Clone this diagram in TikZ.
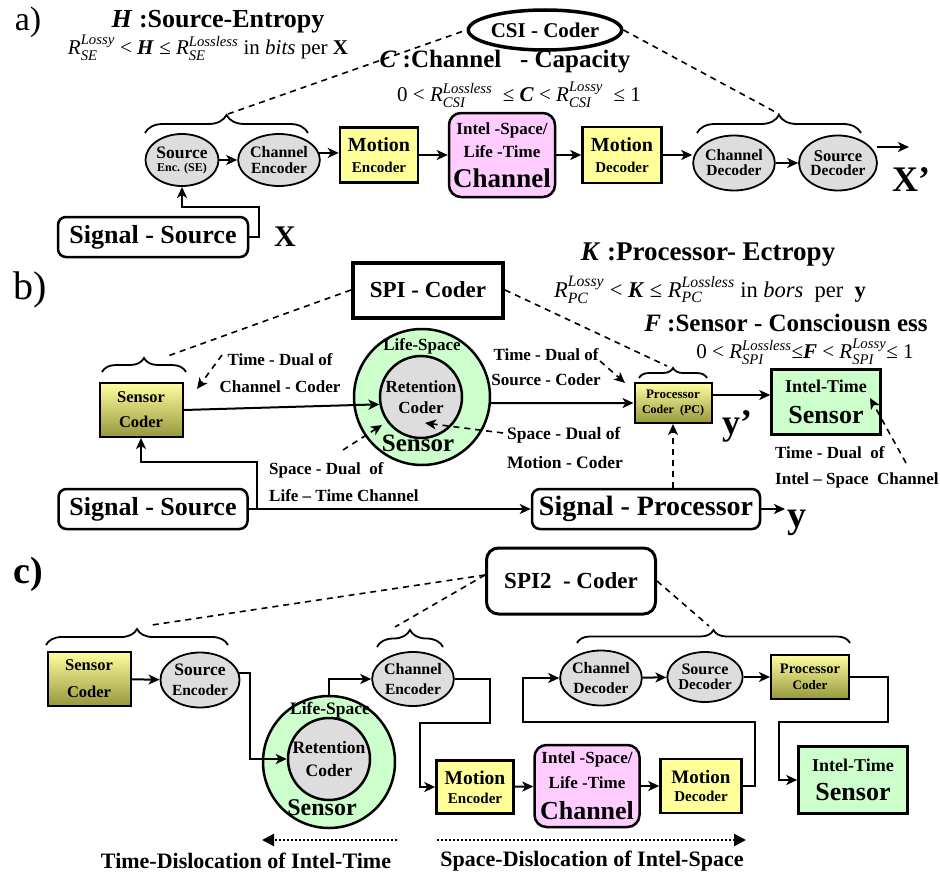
\documentclass[tikz,border=0pt]{standalone}
\usepackage{amsmath}
\usepackage{fontspec}
\setmainfont{Liberation Serif}
\usetikzlibrary{arrows.meta,decorations.pathreplacing,shapes.geometric}
\definecolor{boxyellow}{HTML}{FFFF99}
\definecolor{boxpink}{HTML}{FFCCFF}
\definecolor{boxgreen}{HTML}{CCFFCC}
\definecolor{ellgray}{HTML}{DDDDDD}
\definecolor{olivetop}{HTML}{FFFFA0}
\definecolor{olivebot}{HTML}{96963C}
\newcommand{\fs}[1]{\fontsize{#1}{#1}\selectfont}
\newcommand{\Rq}[2]{$\textit{R}^{\textit{#1}}_{\textit{#2}}$}
\newcommand{\bi}[1]{\textbf{\textit{#1}}}
\begin{document}
\begin{tikzpicture}[x=1pt,y=-1pt,
  every node/.style={font=\bfseries, inner sep=0pt, align=center},
  arr/.style={line width=2pt, -{Stealth[length=11pt,width=10pt,inset=3pt]}},
  dsh/.style={line width=1.6pt, dash pattern=on 6pt off 5pt},
  darr/.style={dsh, -{Stealth[length=11pt,width=10pt,inset=3pt]}},
  dotarr/.style={line width=2.5pt, dash pattern=on 2pt off 2pt, -{Triangle[length=12pt,width=12pt]}},
  ell/.style={ellipse, draw, line width=1.8pt, fill=ellgray},
  ybox/.style={rectangle, draw, line width=2.5pt, fill=boxyellow},
  pbox/.style={rectangle, rounded corners=12pt, draw, line width=2.5pt, fill=boxpink},
  gbox/.style={rectangle, draw, line width=2.5pt, fill=boxgreen},
  obox/.style={rectangle, draw, line width=2pt, top color=olivetop, bottom color=olivebot},
  wbox/.style={rectangle, rounded corners=8pt, draw, line width=2.5pt, fill=white},
  brc/.style={decorate, decoration={brace, amplitude=#1}, line width=1.8pt},
  brc/.default=18pt]
\useasboundingbox (0,0) rectangle (940,875);

% ---------------- a) ----------------
\node (la) at (28,22) {\mdseries\fs{34}a)};
\node (hH) at (218,22) {\fs{26}\bi{H} :Source-Entropy};
\node (fH) at (208,48) {\mdseries\fs{21}\Rq{Lossy}{SE} < \bi{H} ≤ \Rq{Lossless}{SE} in \textit{bits} per \textbf{X}};
\node[ellipse, draw, line width=3.5pt, fill=white, minimum width=134pt, minimum height=40pt] (csi) at (545,30) {\fs{21}CSI - Coder};
\node (hC) at (505,62) {\fs{25}\bi{C} :Channel~~~- Capacity};
\node (fC) at (519,95) {\mdseries\fs{21}0 < \Rq{Lossless}{CSI} ~≤ \bi{C} < \Rq{Lossy}{CSI} ~≤ 1};

\draw[brc] (145,133) -- (308,133);
\draw[brc] (697,133) -- (861,133);
\coordinate (ta1) at (228,114);
\coordinate (ta2) at (779,114);
\draw[dsh] (ta1) -- (csi.west);
\draw[dsh] (csi.east) -- (ta2);

\node[ell, minimum width=73pt, minimum height=52pt] (seA) at (182,160) {{\fs{17.5}Source}\\[1pt]{\fs{12}Enc. (SE)}};
\node[ell, minimum width=72pt, minimum height=52pt] (ceA) at (279,160) {{\fs{16}Channel}\\[4pt]{\fs{15.5}Encoder}};
\node[ybox, minimum width=78pt, minimum height=55pt] (meA) at (379,155) {{\fs{20}Motion}\\[9pt]{\fs{15}Encoder}};
\node[pbox, minimum width=106pt, minimum height=84pt] (chA) at (502,155) {{\fs{17}Intel -Space/}\\[6pt]{\fs{17}Life -Time}\\[10pt]{\fs{27}Channel}};
\node[ybox, minimum width=79pt, minimum height=56pt] (mdA) at (622,155) {{\fs{20}Motion}\\[9pt]{\fs{15}Decoder}};
\node[ell, minimum width=75pt, minimum height=55pt] (cdA) at (734,163) {{\fs{16}Channel}\\[3pt]{\fs{15.5}Decoder}};
\node[ell, minimum width=73pt, minimum height=55pt] (sdA) at (838,163) {{\fs{16.5}Source}\\[2.5pt]{\fs{15.5}Decoder}};

\draw[arr] (seA) -- (ceA);
\draw[arr] (ceA.10) -- (ceA.10 -| meA.west);
\draw[arr] (meA) -- (chA);
\draw[arr] (chA) -- (mdA);
\draw[arr] (mdA.east) -- (mdA.east -| cdA.west);
\draw[arr] (cdA) -- (sdA);
\coordinate (xa1) at (877,147);
\coordinate (xa2) at (909,147);
\draw[arr] (xa1) -- (xa2);
\node (XpA) at (911,180) {\fs{36}X'};
\node[wbox, minimum width=190pt, minimum height=40pt] (ssA) at (153,237) {\fs{26}Signal - Source};
\node (XA) at (285,237) {\fs{30}X};
\draw[arr] (ssA.east) -- ++(10,0) -- ++(0,-30) -| (seA.south);

% ---------------- b) ----------------
\node (lb) at (30,290) {\mdseries\fs{40}b)};
\node[draw, rectangle, line width=4pt, fill=white, minimum width=150pt, minimum height=55pt] (spi) at (428,290) {\fs{23}SPI - Coder};
\node (hK) at (708,255) {\fs{27}\bi{K} :Processor- Ectropy};
\node (fK) at (710,290) {\mdseries\fs{22.5}\Rq{Lossy}{PC} < \bi{K} ≤ \Rq{Lossless}{PC} in \textit{bors}~ per~ \textbf{y}};
\node (hF) at (786,323) {\fs{25}\bi{F} :Sensor - Consciousn ess};
\node (fF) at (805,352) {\mdseries\fs{21}0 < \Rq{Lossless}{SPI}≤\bi{F} < \Rq{Lossy}{SPI}≤ 1};

\node[obox, minimum width=83pt, minimum height=54pt] (scB) at (141,410) {{\fs{16.5}Sensor}\\[13pt]{\fs{16.5}Coder}};
\draw[brc=14pt] (102,372) -- (186,372);
\coordinate (tb1) at (165,357);
\draw[dsh] (spi.west) -- (tb1);

\node[circle, draw, line width=2.5pt, fill=boxgreen, minimum size=136pt] (snB) at (422,397) {};
\node[circle, draw, line width=2.5pt, fill=ellgray, minimum size=82pt] (rtB) at (421,397) {{\fs{17}Retention}\\[9pt]{\fs{17}Coder}};
\node[font=\bfseries\fs{17}] (lsB) at (422,346) {Life-Space};
\node[font=\bfseries\fs{25}] (snBt) at (418,443) {Sensor};

\node[font=\bfseries\fs{17}] (t1B) at (280,373) {Time - Dual of\\[10pt]Channel - Coder};
\coordinate (d1s) at (222,355);
\coordinate (d1e) at (197,389);
\draw[darr] (d1s) -- (d1e);
\draw[arr] (scB.east) -- (rtB.190);

\node[obox, minimum width=77pt, minimum height=40pt] (pcB) at (673,403) {{\fs{13}Processor}\\[3pt]{\fs{12}Coder~~(PC)}};
\draw[arr] (snB.-5) -- (pcB.west);
\node[font=\bfseries\fs{17}] (t2B) at (546,367) {Time - Dual of\\[8pt]Source - Coder};
\coordinate (d2s) at (600,361);
\coordinate (d2e) at (625,383);
\draw[darr] (d2s) -- (d2e);
\draw[brc=10pt] (639,378) -- (707,378);
\coordinate (tb2) at (667,366);
\draw[dsh] (spi.east) -- (tb2);

\node[gbox, minimum width=109pt, minimum height=65pt] (itB) at (826,402) {{\fs{18}Intel-Time}\\[13pt]{\fs{26}Sensor}};
\draw[arr] ([yshift=8pt]pcB.east) -- ([yshift=8pt]pcB.east -| itB.west);
\node (ypB) at (737,426) {\fs{36}y'};
\coordinate (d3s) at (906,463);
\coordinate (d3e) at (870,398);
\draw[darr] (d3s) -- (d3e);
\node[font=\bfseries\fs{17}, align=left, anchor=west] (t3B) at (775,467) {Time - Dual~ of\\[9pt]Intel – Space~ Channel};
\node[font=\bfseries\fs{17.5}, align=left, anchor=west] (t4B) at (507,448) {Space - Dual of\\[12pt]Motion - Coder};
\coordinate (d4s) at (503,433);
\coordinate (d4e) at (425,423);
\draw[darr] (d4s) -- (d4e);
\node[font=\bfseries\fs{17}, align=left, anchor=west] (t5B) at (269,482) {Space - Dual~ of\\[10pt]Life – Time Channel};
\coordinate (d5s) at (343,450);
\coordinate (d5e) at (382,425);
\draw[darr] (d5s) -- (d5e);

\node[wbox, minimum width=189pt, minimum height=40pt] (ssB) at (153,509) {\fs{26}Signal - Source};
\node[wbox, minimum width=228pt, minimum height=40pt] (spB) at (646,509) {\fs{28}Signal - Processor};
\draw[arr] (ssB.east) -- (spB.west);
\coordinate (jB) at (257,509);
\draw[arr] (jB) -- (257,462) -| (scB.south);
\draw[darr] (spB.north -| pcB.south) -- (pcB.south);
\coordinate (yB1) at (785,509);
\draw[arr] (spB.east) -- (yB1);
\node (yB) at (797,523) {\fs{38}y};

% ---------------- c) ----------------
\node (lc) at (28,574) {\fs{38}c)};
\node[wbox, line width=3pt, rounded corners=12pt, minimum width=169pt, minimum height=66pt] (s2C) at (571,581) {\fs{23}SPI2~~- Coder};
\draw[brc=16pt] (46,645) -- (228,645);
\draw[brc=17pt] (377,647) -- (443,647);
\draw[brc=13pt] (577,643) -- (850,643);
\coordinate (tc1) at (152,625);
\coordinate (tc2) at (395,627);
\coordinate (tc3) at (709,626);
\draw[dsh] ([yshift=6pt]s2C.west) -- (tc1);
\draw[dsh] ([yshift=6pt]s2C.west) -- (tc2);
\draw[dsh] (s2C.east) -- (tc3);

\node[obox, minimum width=83pt, minimum height=54pt] (scC) at (89,679) {{\fs{16.5}Sensor}\\[15pt]{\fs{16.5}Coder}};
\node[ell, minimum width=74pt, minimum height=55pt] (seC) at (200,680) {{\fs{17.5}Source}\\[8pt]{\fs{15.5}Encoder}};
\draw[arr] (scC) -- (seC);
\node[circle, draw, line width=2.5pt, fill=boxgreen, minimum size=132pt] (snC) at (329,762) {};
\node[circle, draw, line width=2.5pt, fill=ellgray, minimum size=82pt] (rtC) at (329,759) {{\fs{17.5}Retention}\\[10pt]{\fs{17.5}Coder}};
\node[font=\bfseries\fs{17.5}] (lsC) at (330,710) {Life-Space};
\node[font=\bfseries\fs{24}] (snCt) at (322,808) {Sensor};
\draw[arr] (seC.10) -| (250,759) -- (rtC.west);
\node[ell, minimum width=73pt, minimum height=54pt] (ceC) at (413,679) {{\fs{16}Channel}\\[8pt]{\fs{15.5}Encoder}};
\draw[arr] (snC.north) |- (ceC.west);

\node[ybox, minimum width=77pt, minimum height=53pt] (meC) at (475,787) {{\fs{19.5}Motion}\\[7pt]{\fs{15}Encoder}};
\draw[arr] (ceC.east) -| (490,723) -| (420,787) -- (meC.west);
\node[pbox, minimum width=105pt, minimum height=82pt] (chC) at (587,786) {{\fs{17}Intel -Space/}\\[8pt]{\fs{17}Life -Time}\\[12pt]{\fs{26}Channel}};
\node[ybox, minimum width=81pt, minimum height=54pt] (mdC) at (701,786) {{\fs{19}Motion}\\[6pt]{\fs{15}Decoder}};
\draw[arr] (meC) -- (chC);
\draw[arr] (chC) -- (mdC);

\node[ell, minimum width=74pt, minimum height=55pt] (cdC) at (601,678) {{\fs{16}Channel}\\[8pt]{\fs{15.5}Decoder}};
\node[ell, minimum width=74pt, minimum height=50pt] (sdC) at (705,677) {{\fs{16}Source}\\[3pt]{\fs{15}Decoder}};
\node[obox, minimum width=78pt, minimum height=44pt] (pcC) at (810,677) {{\fs{14.5}Processor}\\[4pt]{\fs{13}Coder}};
\draw[arr] (mdC.east) -| (755,722) -| (523,678) -- (cdC.west);
\draw[arr] (cdC) -- (sdC);
\draw[arr] (sdC) -- (pcC);
\node[gbox, minimum width=109pt, minimum height=67pt] (itC) at (853,780) {{\fs{18}Intel-Time}\\[11pt]{\fs{26}Sensor}};
\draw[arr] (pcC.east) -| (888,722) -| (779,780) -- (itC.west);

\coordinate (tdA) at (397,840);
\coordinate (tdB) at (262,840);
\draw[dotarr] (tdA) -- (tdB);
\node[font=\bfseries\fs{22}] (tdT) at (246,861) {Time-Dislocation of Intel-Time};
\coordinate (sdA1) at (437,840);
\coordinate (sdB1) at (746,840);
\draw[dotarr] (sdA1) -- (sdB1);
\node[font=\bfseries\fs{22}] (sdT) at (592,861) {Space-Dislocation of Intel-Space};
\end{tikzpicture}
\end{document}
